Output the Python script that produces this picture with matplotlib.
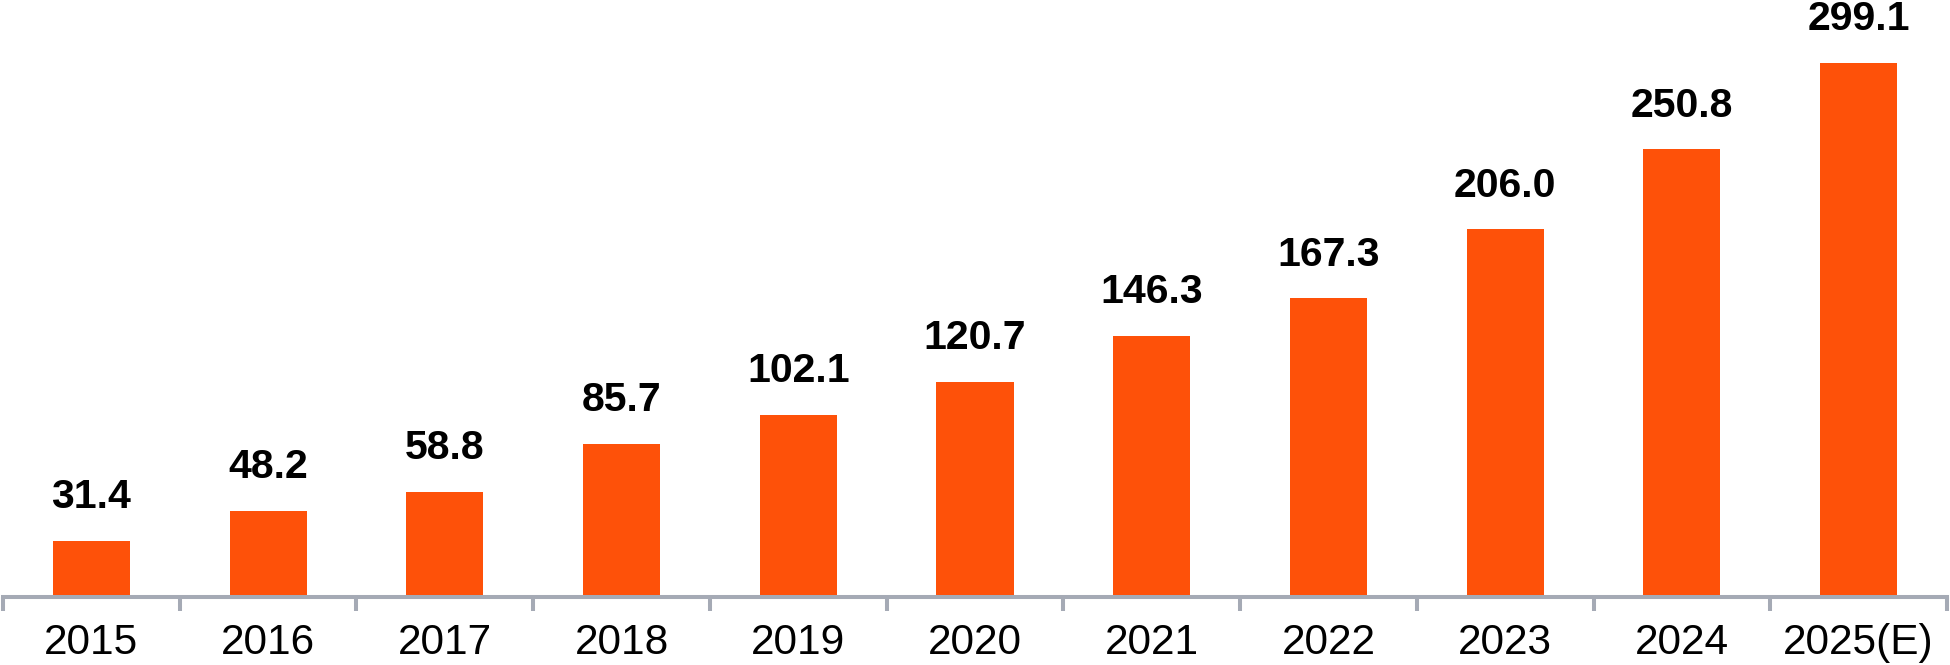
import matplotlib
matplotlib.use("Agg")
import matplotlib.pyplot as plt
import numpy as np

categories = ["2015", "2016", "2017", "2018", "2019", "2020", "2021", "2022", "2023", "2024", "2025(E)"]
values = [31.4, 48.2, 58.8, 85.7, 102.1, 120.7, 146.3, 167.3, 206.0, 250.8, 299.1]
value_labels = ["31.4", "48.2", "58.8", "85.7", "102.1", "120.7", "146.3", "167.3", "206.0", "250.8", "299.1"]

plt.rcParams['font.family'] = ['Liberation Sans', 'DejaVu Sans']

W, H = 1950, 665
fig = plt.figure(figsize=(W / 100, H / 100), dpi=100)
ax = fig.add_axes([3 / W, (H - 597) / H, (1947 - 3) / W, 597 / H])

x = np.arange(len(categories))
bar_color = "#FE5109"
axis_color = "#A5AAB5"
ax.bar(x, values, width=0.436, color=bar_color, zorder=2)

for xi, v, lab in zip(x, values, value_labels):
    ax.annotate(lab, (xi, v), xytext=(0, 23.5), textcoords="offset points",
                ha="center", va="baseline", fontsize=29.5, fontweight="bold", color="black")

ax.set_xlim(-0.5, len(categories) - 0.5)
ax.set_ylim(0, 334.4)

for s in ["top", "right", "left"]:
    ax.spines[s].set_visible(False)
ax.spines["bottom"].set_color(axis_color)
ax.spines["bottom"].set_linewidth(2.9)
ax.spines["bottom"].set_zorder(3)
ax.set_yticks([])

ax.set_xticks(np.arange(len(categories) + 1) - 0.5)
ax.set_xticklabels([])
ax.tick_params(axis="x", which="major", length=10, width=2.9, color=axis_color, direction="out")
ax.set_xticks(x, minor=True)
ax.set_xticklabels(categories, minor=True, fontsize=30.5, color="black")
ax.tick_params(axis="x", which="minor", length=0, pad=19)

fig.savefig("out.png", dpi=100, facecolor="white")
